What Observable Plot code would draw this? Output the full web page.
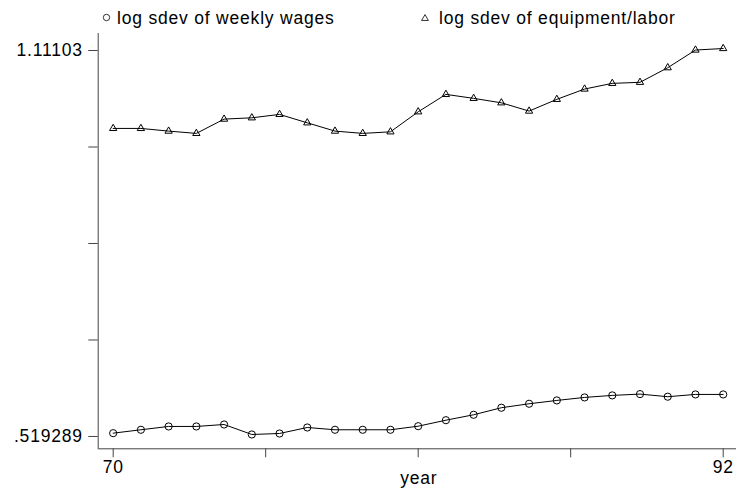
<!DOCTYPE html>
<html>
<head>
<meta charset="utf-8">
<script src="https://cdn.jsdelivr.net/npm/d3@7"></script>
<script src="https://cdn.jsdelivr.net/npm/@observablehq/plot@0.6"></script>
<style>
  body { margin: 0; background: #fff; }
  #chart { width: 736px; }
  #chart svg text { letter-spacing: 0.8px; }
</style>
</head>
<body>
<div id="chart"></div>
<script>
// Year (two-digit) and the two dispersion series
const years = [70, 71, 72, 73, 74, 75, 76, 77, 78, 79, 80, 81, 82, 83, 84, 85, 86, 87, 88, 89, 90, 91, 92];
const wages = [0.5213, 0.5265, 0.5316, 0.5316, 0.5346, 0.519289, 0.5208, 0.5300, 0.5265, 0.5265, 0.5265, 0.5320,
               0.5412, 0.5495, 0.5603, 0.5664, 0.5715, 0.5761, 0.5792, 0.5812, 0.5772, 0.5807, 0.5807];
const equipment = [0.9885, 0.9885, 0.9844, 0.9809, 1.0028, 1.0048, 1.0100, 0.9971, 0.9844, 0.9809, 0.9833, 1.0140,
                   1.0407, 1.0346, 1.0278, 1.0151, 1.0331, 1.0489, 1.0576, 1.0592, 1.0816, 1.1087, 1.11103];
const seriesNames = ["log sdev of weekly wages", "log sdev of equipment/labor"];

// Axis ticks: five evenly spaced ticks, only the ends labelled
const xTickValues = [70, 75.5, 81, 86.5, 92];
const xTickLabels = ["70", "", "", "", "92"];
const yTickValues = [0.519289, 0.667224, 0.815159, 0.963094, 1.11103];
const yTickLabels = [".519289", "", "", "", "1.11103"];
const xTitle = "year";

const FONT = "'Liberation Sans', Arial, Helvetica, sans-serif";
const FONT_SIZE = "17.5px";
const AXIS_COLOR = "#444";

const wageRows = years.map((year, i) => ({year, value: wages[i], series: seriesNames[0]}));
const equipRows = years.map((year, i) => ({year, value: equipment[i], series: seriesNames[1]}));
const rows = wageRows.concat(equipRows);

const xLabel = new Map(xTickValues.map((v, i) => [v, xTickLabels[i]]));
const yLabel = new Map(yTickValues.map((v, i) => [v, yTickLabels[i]]));

// The axes run a little past the first/last tick on each side
const ySpan = yTickValues[4] - yTickValues[0];
const yDomain = [yTickValues[0] - ySpan * 0.0371, yTickValues[4] + ySpan * 0.0389];
const xDomain = [69.46, 92.48];

// Legend row above the plot
const legend = d3.create("svg")
  .attr("width", 736).attr("height", 33)
  .style("display", "block")
  .attr("font-family", FONT).attr("font-size", FONT_SIZE);
legend.append("circle").attr("cx", 106.5).attr("cy", 17.5).attr("r", 3.2)
  .attr("fill", "none").attr("stroke", "#000").attr("stroke-width", 0.8);
legend.append("text").attr("x", 117).attr("y", 23.5).text(seriesNames[0]);
legend.append("path").attr("transform", "translate(425,18.5)")
  .attr("d", d3.symbol(d3.symbolTriangle, 20)())
  .attr("fill", "none").attr("stroke", "#000").attr("stroke-width", 0.8);
legend.append("text").attr("x", 439).attr("y", 23.5).text(seriesNames[1]);

const chart = Plot.plot({
  width: 736,
  height: 462,
  marginLeft: 97.7,
  marginRight: 0,
  marginTop: 0,
  marginBottom: 46.7,
  style: {fontFamily: FONT, fontSize: FONT_SIZE, color: "#000", background: "#fff", overflow: "visible"},
  x: {domain: xDomain},
  y: {domain: yDomain},
  marks: [
    Plot.ruleX([xDomain[0]], {stroke: AXIS_COLOR}),
    Plot.ruleY([yDomain[0]], {stroke: AXIS_COLOR}),
    Plot.axisY(yTickValues, {
      tickSize: 9.4, tickPadding: 6, dy: 2, stroke: AXIS_COLOR, fill: "#000",
      tickFormat: d => yLabel.get(d), label: null
    }),
    Plot.axisX(xTickValues, {
      tickSize: 9, tickPadding: 3, stroke: AXIS_COLOR, fill: "#000",
      tickFormat: d => xLabel.get(d), label: null
    }),
    Plot.text([xTitle], {frameAnchor: "bottom", dy: 35.4, dx: 1.5, text: d => d, fill: "#000"}),
    Plot.line(rows, {x: "year", y: "value", z: "series", stroke: "#000", strokeWidth: 1}),
    Plot.dot(wageRows, {x: "year", y: "value", symbol: "circle", r: 3.6, stroke: "#000", strokeWidth: 1, fill: "none"}),
    Plot.dot(equipRows, {x: "year", y: "value", symbol: "triangle", r: 2.7, stroke: "#000", strokeWidth: 1, fill: "none"})
  ]
});

const root = document.getElementById("chart");
root.append(legend.node());
root.append(chart);
</script>
</body>
</html>
